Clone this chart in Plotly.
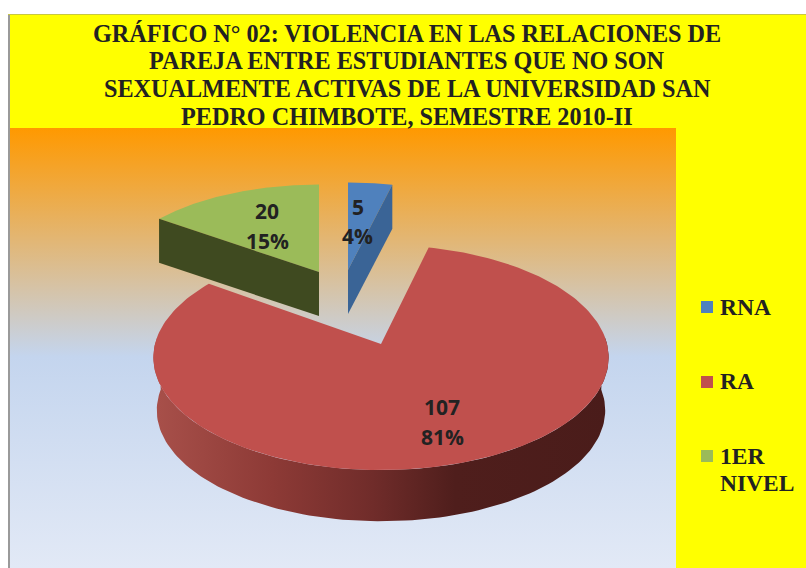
import numpy as np
import plotly.graph_objects as go

# --- data ---
categories = ["RNA", "RA", "1ER NIVEL"]
values = [5, 107, 20]
percents = ["4%", "81%", "15%"]
legend_lines = [["RNA"], ["RA"], ["1ER", "NIVEL"]]
title_lines = [
    "GRÁFICO N° 02: VIOLENCIA EN LAS RELACIONES DE",
    "PAREJA ENTRE ESTUDIANTES QUE NO SON",
    "SEXUALMENTE ACTIVAS DE LA UNIVERSIDAD SAN",
    "PEDRO CHIMBOTE, SEMESTRE 2010-II",
]

# --- styles / layout ---
top_colors = ["#4F81BD", "#C0504D", "#9BBB59"]
side_colors = ["#3A6496", None, "#3F4A20"]
W, H = 806, 568
START = 90.0              # first slice start, degrees
K = 0.12                  # perspective strength
# apex x, apex y, R, vertical R, thickness for each slice
geom = [(348, 270, 210, 98, 44), (381, 344, 226, 111, 53), (319, 272, 210, 98, 44)]
label_pos = [((358, 207), (357, 236)), ((442, 407), (442, 437)), ((267, 211), (267, 241))]
TEXT = "#222222"


def proj(th, g, scale=1.0, dy=0.0):
    ax, ay, R, Rc, _ = g
    t = np.radians(th)
    d = 1 + K * np.sin(t)
    return ax + scale * R * np.cos(t) / d, ay + dy - scale * Rc * np.sin(t) / d


def poly(xs, ys, **kw):
    return go.Scatter(x=list(xs), y=list(ys), mode="lines", fill="toself", line=dict(width=0),
                      hoverinfo="skip", showlegend=False, **kw)


total = sum(values)
spans = []
a = START
for v in values:
    b = a - v / total * 360
    spans.append((a, b))
    a = b

fig = go.Figure()

# plot-area gradient
fig.add_trace(poly([10, 676, 676, 10, 10], [128, 128, 568, 568, 128],
                   fillgradient=dict(type="vertical", start=128, stop=568,
                                     colorscale=[[0, "#FF9900"], [0.52, "#C4D5EE"], [1, "#E2E9F6"]])))

# RA: rim then top face
g = geom[1]
th = np.linspace(176, 364, 120)
xt, yt = proj(th, g)
xb, yb = proj(th[::-1], g, 0.985, g[4])
fig.add_trace(poly(np.r_[xt, xb, xt[0]], np.r_[yt, yb, yt[0]],
                   fillgradient=dict(type="horizontal", start=154, stop=610,
                                     colorscale=[[0, "#A8504A"], [0.26, "#8D3A36"], [0.48, "#702C2A"],
                                                 [0.66, "#4F1E1C"], [1, "#4A1C1A"]])))


def top_face(i):
    a, b = spans[i]
    th = np.linspace(a, b, 200)
    x, y = proj(th, geom[i])
    return poly(np.r_[geom[i][0], x, geom[i][0]], np.r_[geom[i][1], y, geom[i][1]], fillcolor=top_colors[i])


def side_face(i, edge):
    g = geom[i]
    x0, y0 = proj(edge, g)
    return poly([g[0], x0, x0, g[0], g[0]], [g[1], y0, y0 + g[4], g[1] + g[4], g[1]], fillcolor=side_colors[i])


fig.add_trace(top_face(1))
fig.add_trace(top_face(2))
fig.add_trace(side_face(2, spans[2][0]))
fig.add_trace(top_face(0))
fig.add_trace(side_face(0, spans[0][1]))

# legend swatches
fig.add_trace(go.Scatter(x=[707, 707, 707], y=[307, 382, 456], mode="markers", hoverinfo="skip", showlegend=False,
                         marker=dict(symbol="square", size=12, color=top_colors, line=dict(width=0))))

ann = []
for line, y in zip(title_lines, [33, 60, 88, 116]):
    ann.append(dict(x=407, y=y, text=line, showarrow=False, xanchor="center", yanchor="middle",
                    font=dict(family="Liberation Serif", size=24.2, color=TEXT)))
for lines, ys in zip(legend_lines, [[307], [381], [456, 483]]):
    for line, y in zip(lines, ys):
        ann.append(dict(x=718, y=y, text=line, showarrow=False, xanchor="left", yanchor="middle",
                        font=dict(family="Liberation Serif", size=23.5, color=TEXT)))
for v, p, (pv, pp) in zip(values, percents, label_pos):
    for txt, (x, y) in ((str(v), pv), (p, pp)):
        ann.append(dict(x=x, y=y, text=txt, showarrow=False, xanchor="center", yanchor="middle",
                        font=dict(family="Open Sans", size=21, color=TEXT)))
for an in ann:
    an["text"] = "<b>" + an["text"] + "</b>"

fig.update_layout(
    width=W, height=H, autosize=False, margin=dict(l=0, r=0, t=0, b=0),
    paper_bgcolor="white", plot_bgcolor="white",
    xaxis=dict(range=[0, W], visible=False, fixedrange=True),
    yaxis=dict(range=[H, 0], visible=False, fixedrange=True),
    annotations=ann,
    shapes=[
        dict(type="rect", layer="below", x0=10, x1=W, y0=15, y1=H, fillcolor="#FFFF00", line=dict(width=0)),
        dict(type="rect", layer="below", x0=8, x1=10, y0=14, y1=H, fillcolor="#9A9A9A", line=dict(width=0)),
        dict(type="rect", layer="below", x0=8, x1=W, y0=14, y1=15, fillcolor="#C8C840", line=dict(width=0)),
    ],
)
fig.write_html("out.html", config=dict(displayModeBar=False),
               post_script="document.body.style.margin='0';document.body.style.overflow='hidden';")
